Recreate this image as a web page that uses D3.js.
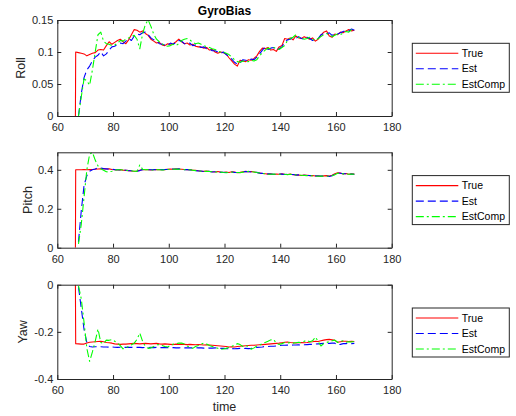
<!DOCTYPE html>
<html><head><meta charset="utf-8">
<script src="https://cdn.jsdelivr.net/npm/d3@7"></script>
<style>body{margin:0;background:#fff}svg{display:block}</style>
</head><body><svg id="c" width="516" height="416"></svg>
<script>
// ---------- data ----------
const time = [66.5].concat(d3.range(66.6, 167, 1));
const xTicks = [60, 80, 100, 120, 140, 160, 180];
const seriesNames = ["True", "Est", "EstComp"];

const rollTicks = [0, 0.05, 0.1, 0.15];
const pitchTicks = [0, 0.2, 0.4];
const yawTicks = [-0.4, -0.2, 0];

const rollTrue = [0, 0.100,
 0.099,0.098,0.097,0.094,0.096,0.098,0.099,0.103,0.104,0.103,
 0.110,0.116,0.112,0.115,0.118,0.120,0.116,0.113,0.119,0.127,
 0.135,0.134,0.131,0.133,0.129,0.126,0.120,0.117,0.114,0.115,
 0.111,0.110,0.113,0.112,0.113,0.116,0.120,0.116,0.113,0.114,
 0.111,0.112,0.109,0.108,0.108,0.106,0.107,0.103,0.104,0.100,
 0.098,0.100,0.099,0.097,0.091,0.086,0.081,0.078,0.087,0.086,
 0.085,0.088,0.087,0.090,0.094,0.101,0.106,0.105,0.107,0.103,
 0.104,0.101,0.108,0.110,0.121,0.120,0.122,0.119,0.125,0.122,
 0.121,0.124,0.122,0.120,0.122,0.117,0.120,0.126,0.131,0.133,
 0.125,0.123,0.128,0.127,0.131,0.130,0.133,0.135,0.133,0.134];
const rollEst = [null, null,
 0.000,0.035,0.060,0.072,0.078,0.086,0.092,0.095,0.100,0.094,
 0.097,0.103,0.108,0.109,0.112,0.114,0.113,0.117,0.121,0.118,
 0.125,0.128,0.127,0.130,0.131,0.127,0.122,0.119,0.117,0.113,
 0.112,0.111,0.110,0.114,0.112,0.115,0.118,0.117,0.113,0.112,
 0.114,0.110,0.111,0.109,0.107,0.108,0.105,0.105,0.102,0.102,
 0.100,0.098,0.100,0.096,0.093,0.089,0.084,0.081,0.083,0.088,
 0.087,0.086,0.089,0.088,0.092,0.097,0.103,0.108,0.104,0.106,
 0.107,0.103,0.105,0.108,0.115,0.119,0.120,0.123,0.121,0.124,
 0.121,0.120,0.123,0.121,0.118,0.120,0.121,0.127,0.129,0.128,
 0.130,0.126,0.129,0.128,0.130,0.132,0.134,0.133,0.136,0.134];
const rollComp = [null, null,
 0.000,0.030,0.058,0.055,0.048,0.072,0.100,0.127,0.131,0.117,
 0.113,0.112,0.110,0.111,0.114,0.118,0.117,0.120,0.122,0.124,
 0.126,0.120,0.105,0.128,0.143,0.150,0.140,0.128,0.120,0.116,
 0.113,0.110,0.109,0.110,0.112,0.110,0.113,0.118,0.120,0.121,
 0.119,0.115,0.113,0.114,0.112,0.110,0.108,0.107,0.105,0.104,
 0.101,0.100,0.100,0.098,0.096,0.092,0.088,0.085,0.084,0.086,
 0.085,0.085,0.087,0.086,0.088,0.094,0.099,0.103,0.106,0.105,
 0.107,0.106,0.104,0.107,0.110,0.118,0.121,0.123,0.127,0.123,
 0.122,0.120,0.121,0.123,0.120,0.118,0.121,0.124,0.127,0.129,
 0.127,0.124,0.126,0.128,0.127,0.130,0.132,0.131,0.135,0.134];

const pitchTrue = [0, 0.400,
 0.400,0.400,0.401,0.400,0.401,0.402,0.403,0.404,0.405,0.406,
 0.404,0.405,0.402,0.400,0.399,0.401,0.398,0.397,0.396,0.394,
 0.393,0.394,0.398,0.402,0.400,0.401,0.399,0.400,0.402,0.401,
 0.400,0.401,0.403,0.404,0.403,0.405,0.404,0.403,0.402,0.400,
 0.401,0.398,0.397,0.395,0.393,0.392,0.394,0.391,0.390,0.389,
 0.391,0.388,0.386,0.388,0.386,0.390,0.388,0.385,0.387,0.390,
 0.392,0.390,0.391,0.389,0.386,0.384,0.381,0.380,0.378,0.379,
 0.376,0.378,0.377,0.379,0.377,0.376,0.378,0.375,0.374,0.373,
 0.371,0.373,0.372,0.370,0.371,0.368,0.369,0.367,0.369,0.370,
 0.368,0.372,0.380,0.385,0.383,0.379,0.381,0.377,0.379,0.378];
const pitchEst = [null, null,
 0.030,0.190,0.320,0.370,0.393,0.400,0.404,0.411,0.409,0.406,
 0.405,0.403,0.404,0.401,0.400,0.399,0.400,0.398,0.396,0.395,
 0.392,0.393,0.396,0.401,0.402,0.400,0.400,0.401,0.400,0.402,
 0.401,0.402,0.402,0.405,0.404,0.403,0.405,0.402,0.401,0.401,
 0.399,0.399,0.396,0.394,0.394,0.391,0.393,0.392,0.389,0.390,
 0.389,0.387,0.387,0.386,0.387,0.389,0.387,0.386,0.386,0.389,
 0.391,0.391,0.389,0.388,0.387,0.383,0.382,0.379,0.379,0.378,
 0.377,0.377,0.378,0.378,0.376,0.377,0.376,0.376,0.373,0.374,
 0.372,0.372,0.371,0.371,0.369,0.369,0.368,0.368,0.368,0.369,
 0.366,0.370,0.377,0.384,0.382,0.380,0.380,0.378,0.378,0.377];
const pitchComp = [null, null,
 0.020,0.120,0.260,0.400,0.480,0.490,0.450,0.420,0.405,0.398,
 0.390,0.389,0.393,0.398,0.400,0.400,0.399,0.397,0.396,0.395,
 0.393,0.392,0.425,0.403,0.400,0.401,0.399,0.399,0.401,0.400,
 0.399,0.400,0.402,0.403,0.403,0.404,0.403,0.402,0.401,0.400,
 0.400,0.398,0.396,0.394,0.393,0.392,0.392,0.391,0.390,0.388,
 0.389,0.388,0.386,0.385,0.387,0.388,0.387,0.386,0.385,0.388,
 0.390,0.392,0.390,0.389,0.386,0.384,0.381,0.380,0.378,0.377,
 0.378,0.377,0.376,0.378,0.377,0.375,0.377,0.375,0.374,0.372,
 0.372,0.371,0.370,0.370,0.369,0.368,0.367,0.368,0.367,0.368,
 0.367,0.369,0.375,0.382,0.383,0.379,0.379,0.377,0.378,0.377];

const yawTrue = [0, -0.250,
 -0.251,-0.252,-0.252,-0.247,-0.244,-0.243,-0.242,-0.241,-0.240,-0.242,
 -0.245,-0.246,-0.248,-0.251,-0.252,-0.253,-0.252,-0.252,-0.251,-0.250,
 -0.249,-0.250,-0.251,-0.250,-0.249,-0.250,-0.251,-0.250,-0.249,-0.251,
 -0.252,-0.251,-0.252,-0.253,-0.254,-0.252,-0.253,-0.252,-0.253,-0.254,
 -0.253,-0.254,-0.255,-0.254,-0.255,-0.256,-0.255,-0.256,-0.257,-0.258,
 -0.259,-0.260,-0.261,-0.262,-0.264,-0.263,-0.264,-0.262,-0.261,-0.260,
 -0.259,-0.258,-0.257,-0.257,-0.256,-0.255,-0.254,-0.253,-0.252,-0.251,
 -0.250,-0.249,-0.248,-0.246,-0.244,-0.243,-0.245,-0.246,-0.247,-0.246,
 -0.245,-0.246,-0.245,-0.243,-0.242,-0.240,-0.241,-0.238,-0.235,-0.233,
 -0.232,-0.234,-0.236,-0.244,-0.242,-0.240,-0.240,-0.241,-0.240,-0.241];
const yawEst = [null, null,
 -0.010,-0.100,-0.190,-0.245,-0.262,-0.264,-0.263,-0.264,-0.263,-0.264,
 -0.264,-0.265,-0.264,-0.265,-0.266,-0.265,-0.266,-0.266,-0.265,-0.266,
 -0.265,-0.266,-0.266,-0.267,-0.266,-0.267,-0.266,-0.267,-0.266,-0.267,
 -0.267,-0.266,-0.267,-0.268,-0.267,-0.268,-0.268,-0.267,-0.268,-0.268,
 -0.268,-0.268,-0.267,-0.268,-0.268,-0.269,-0.268,-0.269,-0.269,-0.268,
 -0.269,-0.270,-0.270,-0.271,-0.272,-0.271,-0.272,-0.271,-0.270,-0.271,
 -0.270,-0.271,-0.270,-0.268,-0.266,-0.265,-0.264,-0.262,-0.262,-0.261,
 -0.261,-0.260,-0.258,-0.257,-0.257,-0.256,-0.257,-0.256,-0.256,-0.255,
 -0.256,-0.255,-0.254,-0.253,-0.253,-0.252,-0.251,-0.250,-0.249,-0.250,
 -0.249,-0.248,-0.248,-0.255,-0.253,-0.250,-0.250,-0.249,-0.250,-0.249];
const yawComp = [null, null,
 -0.005,-0.060,-0.160,-0.270,-0.325,-0.285,-0.240,-0.188,-0.245,-0.250,
 -0.235,-0.236,-0.233,-0.240,-0.248,-0.258,-0.272,-0.268,-0.262,-0.255,
 -0.248,-0.232,-0.205,-0.240,-0.262,-0.270,-0.268,-0.262,-0.255,-0.254,
 -0.258,-0.262,-0.264,-0.258,-0.252,-0.250,-0.248,-0.247,-0.252,-0.260,
 -0.266,-0.270,-0.262,-0.258,-0.252,-0.248,-0.252,-0.258,-0.262,-0.266,
 -0.270,-0.274,-0.273,-0.270,-0.266,-0.262,-0.256,-0.250,-0.254,-0.262,
 -0.258,-0.262,-0.274,-0.268,-0.260,-0.256,-0.250,-0.245,-0.240,-0.234,
 -0.232,-0.248,-0.254,-0.250,-0.245,-0.247,-0.246,-0.248,-0.246,-0.244,
 -0.246,-0.240,-0.236,-0.242,-0.238,-0.222,-0.240,-0.260,-0.250,-0.245,
 -0.242,-0.238,-0.235,-0.245,-0.240,-0.238,-0.244,-0.242,-0.243,-0.240];

// ---------- styles / layout ----------
const colors = ["#ff0000", "#0000ff", "#00ff00"];
const dashes = [null, "8,4", "8,3,2,3"];
const FONT = "'Liberation Sans', Arial, Helvetica, sans-serif";
const AX = "#262626";
const left = 57.3, right = 391.7;

const panels = [
  {label: "Roll", domain: [0, 0.15], ticks: rollTicks, data: [rollTrue, rollEst, rollComp], top: 20, bottom: 116, labelX: 21},
  {label: "Pitch", domain: [0, 0.49], ticks: pitchTicks, data: [pitchTrue, pitchEst, pitchComp], top: 152.3, bottom: 247.7, labelX: 28},
  {label: "Yaw", domain: [-0.4, 0], ticks: yawTicks, data: [yawTrue, yawEst, yawComp], top: 284.7, bottom: 379, labelX: 23}
];

const svg = d3.select("#c");
const x = d3.scaleLinear().domain([60, 180]).range([left, right]);
const fmt = d => String(d);

panels.forEach((p, pi) => {
  const y = d3.scaleLinear().domain(p.domain).range([p.bottom, p.top]);
  const g = svg.append("g");
  const clipId = "clip" + pi;
  svg.append("clipPath").attr("id", clipId).append("rect")
    .attr("x", left).attr("y", p.top).attr("width", right - left).attr("height", p.bottom - p.top);

  // lines
  const line = d3.line().defined(d => d[1] !== null).x(d => x(d[0])).y(d => y(d[1]));
  p.data.forEach((vals, si) => {
    const pts = time.map((t, i) => [t, vals[i]]);
    g.append("path").attr("d", line(pts)).attr("clip-path", `url(#${clipId})`)
      .attr("fill", "none").attr("stroke", colors[si]).attr("stroke-width", 1.1)
      .attr("stroke-dasharray", dashes[si]).attr("stroke-linejoin", "round");
  });

  // axes
  const axB = g.append("g").attr("transform", `translate(0,${p.bottom})`)
    .call(d3.axisBottom(x).tickValues(xTicks).tickFormat(fmt).tickSizeInner(-4).tickSizeOuter(0).tickPadding(7.5));
  const axT = g.append("g").attr("transform", `translate(0,${p.top})`)
    .call(d3.axisTop(x).tickValues(xTicks).tickFormat("").tickSizeInner(-4).tickSizeOuter(0));
  const axL = g.append("g").attr("transform", `translate(${left},0)`)
    .call(d3.axisLeft(y).tickValues(p.ticks).tickFormat(fmt).tickSizeInner(-4).tickSizeOuter(0).tickPadding(4));
  const axR = g.append("g").attr("transform", `translate(${right},0)`)
    .call(d3.axisRight(y).tickValues(p.ticks).tickFormat("").tickSizeInner(-4).tickSizeOuter(0));
  [axB, axT, axL, axR].forEach(a => {
    a.selectAll("path,line").attr("stroke", AX).attr("stroke-width", 1);
    a.selectAll("text").attr("fill", AX).style("font-family", FONT).style("font-size", "11px");
  });

  // y label
  svg.append("text").attr("transform", `translate(${p.labelX},${(p.top + p.bottom) / 2}) rotate(-90)`)
    .attr("text-anchor", "middle").attr("dy", "0.35em")
    .style("font-family", FONT).style("font-size", "12.5px").attr("fill", AX).text(p.label);

  // legend
  const lx = 412.3, lw = 97, lh = 49, ly = p.top + 23.3;
  const lg = svg.append("g");
  lg.append("rect").attr("x", lx).attr("y", ly).attr("width", lw).attr("height", lh)
    .attr("fill", "#fff").attr("stroke", AX).attr("stroke-width", 1);
  seriesNames.forEach((name, si) => {
    const ry = ly + 10 + si * 15.5;
    lg.append("line").attr("x1", lx + 3.5).attr("x2", lx + 46).attr("y1", ry).attr("y2", ry)
      .attr("stroke", colors[si]).attr("stroke-width", 1.1).attr("stroke-dasharray", dashes[si]);
    lg.append("text").attr("x", lx + 49.5).attr("y", ry).attr("dy", "0.35em")
      .style("font-family", FONT).style("font-size", "10.5px").attr("fill", "#000").text(name);
  });
});

// title and x label
svg.append("text").attr("x", (left + right) / 2).attr("y", 11).attr("dy", "0.35em")
  .attr("text-anchor", "middle").style("font-family", FONT).style("font-size", "12px")
  .style("font-weight", "bold").attr("fill", "#000").text("GyroBias");
svg.append("text").attr("x", (left + right) / 2).attr("y", 407).attr("dy", "0.35em")
  .attr("text-anchor", "middle").style("font-family", FONT).style("font-size", "12.5px")
  .attr("fill", AX).text("time");
</script>
</body></html>
